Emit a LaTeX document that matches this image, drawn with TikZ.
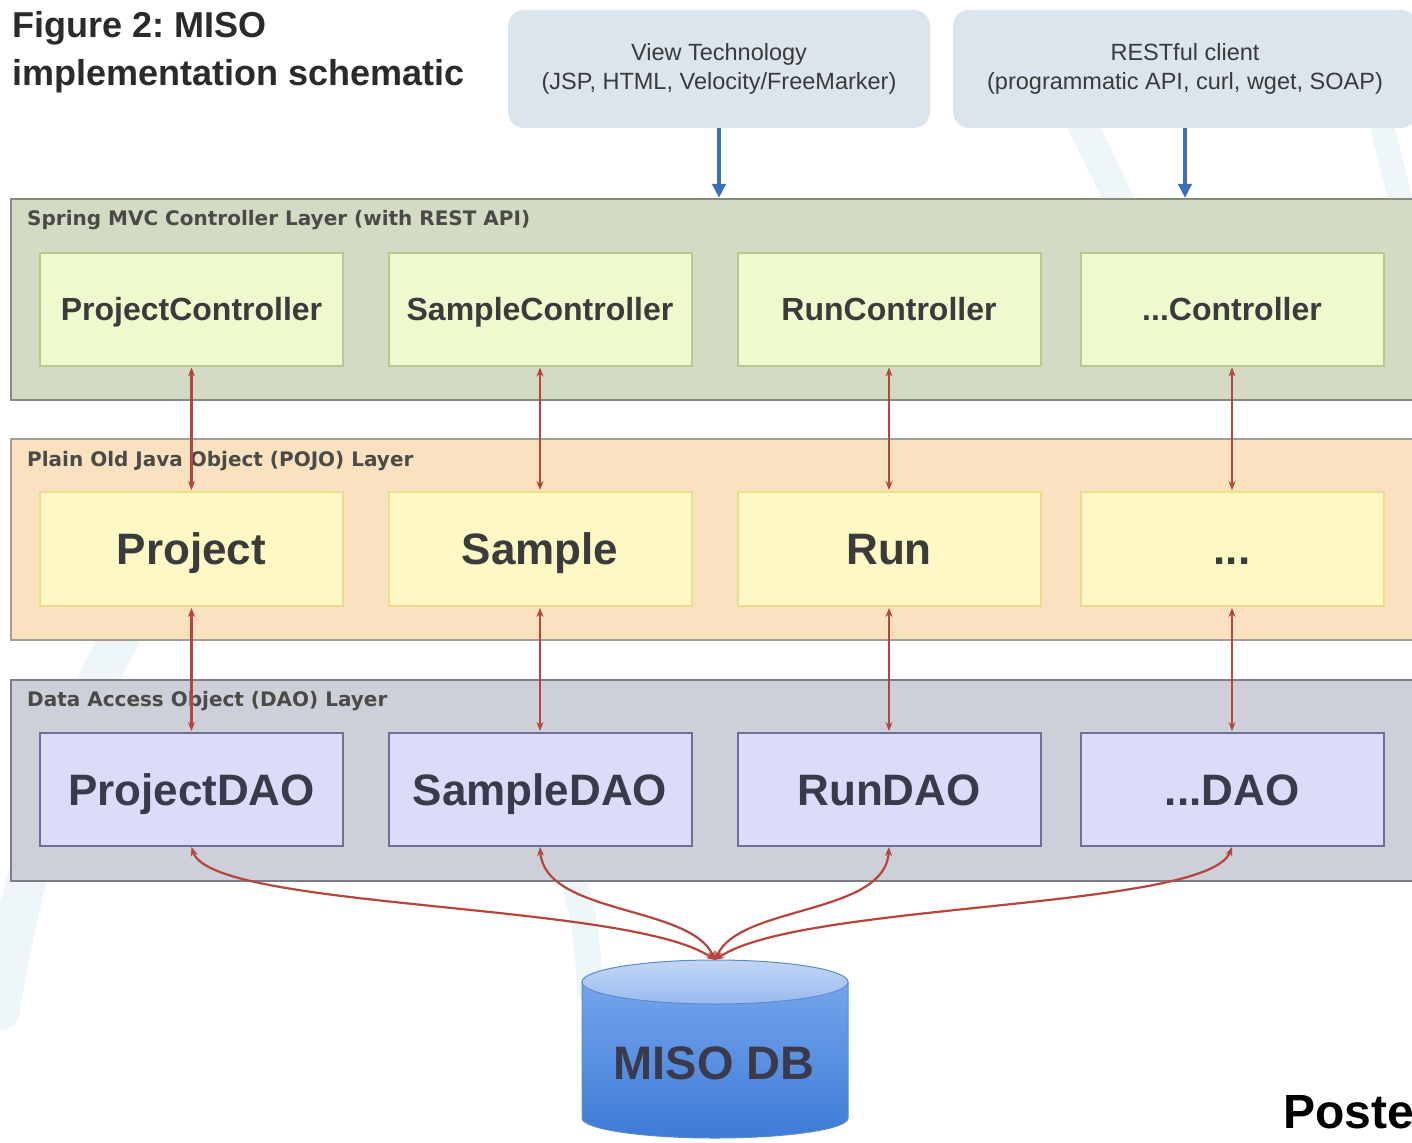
\documentclass[tikz,border=0pt]{standalone}
\usepackage{fontspec}
\setmainfont{Liberation Sans}
\newfontfamily\layerfont{DejaVu Sans}
\usetikzlibrary{arrows.meta}
\frenchspacing

\definecolor{titlegray}{HTML}{2B2B2B}
\definecolor{topbox}{HTML}{DCE5EE}
\definecolor{toptext}{HTML}{3A3A3A}
\definecolor{ctrlfill}{HTML}{D3DBC4}
\definecolor{ctrlline}{HTML}{858C7C}
\definecolor{ctrlbox}{HTML}{EEF9CE}
\definecolor{ctrlboxline}{HTML}{B3CC8C}
\definecolor{pojofill}{HTML}{FAE2C0}
\definecolor{pojoline}{HTML}{A39D92}
\definecolor{pojobox}{HTML}{FDF8C4}
\definecolor{pojoboxline}{HTML}{EEDB8C}
\definecolor{daofill}{HTML}{CDCFD9}
\definecolor{daoline}{HTML}{7C7D88}
\definecolor{daobox}{HTML}{DCDCF8}
\definecolor{daoboxline}{HTML}{6E6E98}
\definecolor{labelgray}{HTML}{4A4A46}
\definecolor{boxtext}{HTML}{3B3B3B}
\definecolor{daotext}{HTML}{3A3A4C}
\definecolor{linkred}{HTML}{B5453D}
\definecolor{linkblue}{HTML}{3D6FB8}
\definecolor{mark}{HTML}{EEF6FA}
\definecolor{dbtopA}{HTML}{C2D7F6}
\definecolor{dbtopB}{HTML}{98BBEE}
\definecolor{dbbodyA}{HTML}{74A5EC}
\definecolor{dbbodyB}{HTML}{3E7BD7}
\definecolor{dbline}{HTML}{5B8BCF}

\tikzset{
  layer/.style={draw=#1, line width=2pt, minimum width=1414, minimum height=201, inner sep=0pt},
  boxbase/.style={line width=2pt, minimum width=303, inner sep=0pt, text depth=0pt},
  ctrlbox/.style={boxbase, draw=ctrlboxline, fill=ctrlbox, minimum height=113, text height=22.9pt,
    text=boxtext, font=\fontsize{32}{36}\selectfont\bfseries},
  pojobox/.style={boxbase, draw=pojoboxline, fill=pojobox, minimum height=114, text height=31.5pt,
    text=boxtext, font=\fontsize{44}{48}\selectfont\bfseries},
  daobox/.style={boxbase, draw=daoboxline, fill=daobox, minimum height=113, text height=31.5pt,
    text=daotext, font=\fontsize{44}{48}\selectfont\bfseries},
  layerlabel/.style={anchor=base west, inner sep=0pt, text=labelgray, font=\layerfont\fontsize{20}{22}\selectfont\bfseries},
  topbox/.style={fill=topbox, rounded corners=16pt, minimum height=118, inner sep=0pt, align=center,
    text=toptext, font=\fontsize{23.5}{29}\selectfont},
  uplink/.style={draw=linkblue, line width=4pt, -{Triangle[length=14pt,width=13pt]}},
  twoway/.style={draw=linkred, line width=2.2pt, {Stealth[length=9pt,width=7pt]}-{Stealth[length=9pt,width=7pt]}},
  wmark/.style={draw=mark, line cap=round}
}

\begin{document}
\begin{tikzpicture}[x=1pt,y=-1pt]
\useasboundingbox (0,0) rectangle (1412,1142);
\clip (0,0) rectangle (1412,1142);
\fill[white] (0,0) rectangle (1412,1142);

% faint background swooshes
\draw[wmark, line width=40pt] (0,1010) .. controls (20,880) and (60,740) .. (140,600);
\draw[wmark, line width=30pt] (1080,120) .. controls (1095,150) and (1110,180) .. (1125,215);
\draw[wmark, line width=26pt] (575,885) .. controls (585,920) and (588,950) .. (590,990);
\draw[wmark, line width=24pt] (1380,120) .. controls (1388,150) and (1396,180) .. (1404,215);

% title
\node[anchor=base west, inner sep=0pt, text=titlegray, font=\fontsize{36}{40}\selectfont\bfseries] (title1) at (12,38) {Figure 2: MISO};
\node[anchor=base west, inner sep=0pt, text=titlegray, font=\fontsize{36}{40}\selectfont\bfseries] (title2) at (12,86) {implementation schematic};

% client boxes
\node[topbox, minimum width=422] (view) at (719,69) {View Technology\\(JSP, HTML, Velocity/FreeMarker)};
\node[topbox, minimum width=464] (rest) at (1185,69) {RESTful client\\(programmatic API, curl, wget, SOAP)};

% layers
\node[layer=ctrlline, fill=ctrlfill] (ctrl) at (718,299.5) {};
\node[layer=pojoline, fill=pojofill] (pojo) at (718,539.5) {};
\node[layer=daoline, fill=daofill] (dao) at (718,780) {};

\node[layerlabel] (ctrllabel) at (27,225) {Spring MVC Controller Layer (with REST API)};
\node[layerlabel] (pojolabel) at (27,466) {Plain Old Java Object (POJO) Layer};
\node[layerlabel] (daolabel) at (27,706) {Data Access Object (DAO) Layer};

% controllers
\node[ctrlbox] (pc) at (191.5,309) {ProjectController};
\node[ctrlbox] (sc) at (540,309) {SampleController};
\node[ctrlbox] (rc) at (889,309) {RunController};
\node[ctrlbox] (xc) at (1232,309) {...Controller};

% domain objects
\node[pojobox] (p) at (191.5,549) {Project};
\node[pojobox] (s) at (540,549) {Sample};
\node[pojobox] (r) at (889,549) {Run};
\node[pojobox] (x) at (1232,549) {...};

% data access objects
\node[daobox] (pd) at (191.5,789.5) {ProjectDAO};
\node[daobox] (sd) at (540,789.5) {SampleDAO};
\node[daobox] (rd) at (889,789.5) {RunDAO};
\node[daobox] (xd) at (1232,789.5) {...DAO};

% incoming client calls
\draw[uplink] (view.south) -- (view.south |- ctrl.north);
\draw[uplink] (rest.south) -- (rest.south |- ctrl.north);

% controller <-> object <-> dao
\foreach \a/\b in {pc/p, sc/s, rc/r, xc/x, p/pd, s/sd, r/rd, x/xd}
  \draw[twoway, shorten <=1pt, shorten >=1pt] (\a.south) -- (\b.north);

% database cylinder
\shade[top color=dbbodyA, bottom color=dbbodyB, draw=dbline, line width=1pt]
  (582,982) -- (582,1118) arc[start angle=180, end angle=360, x radius=133pt, y radius=20pt] -- (848,982) -- cycle;
\shade[top color=dbtopA, bottom color=dbtopB, draw=dbline, line width=1pt]
  (715,982) ellipse[x radius=133pt, y radius=22pt];
\coordinate (dbtop) at (715,960);
\node[inner sep=0pt, text=daotext, font=\fontsize{47}{50}\selectfont\bfseries, text height=33.7pt, text depth=0pt] (db) at (714,1063) {MISO DB};

% dao <-> database
\draw[twoway] (pd.south) .. controls (212,910) and (630,902) .. (dbtop);
\draw[twoway] (sd.south) .. controls (545,915) and (690,905) .. (dbtop);
\draw[twoway] (rd.south) .. controls (885,915) and (740,905) .. (dbtop);
\draw[twoway] (xd.south) .. controls (1208,910) and (800,902) .. (dbtop);

\node[anchor=base west, inner sep=0pt, text=black, font=\fontsize{48}{50}\selectfont\bfseries] (poste) at (1283,1128) {Poste};
\end{tikzpicture}
\end{document}
